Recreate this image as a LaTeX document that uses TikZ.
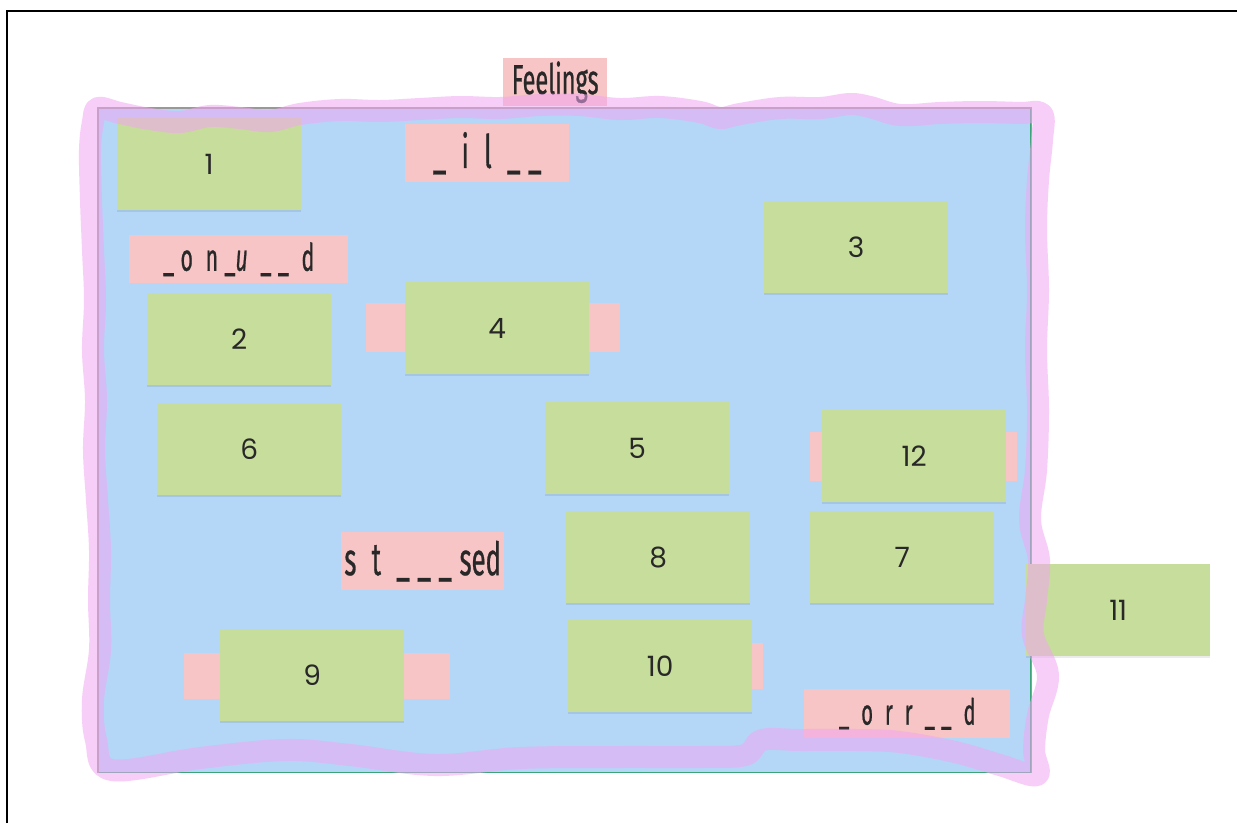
\documentclass[tikz,border=0pt]{standalone}
\usepackage{fontspec}
\usetikzlibrary{shadows}
\newfontfamily\numfont{Poppins}
\newfontfamily\condfont[FakeStretch=0.56, FakeBold=0.6]{Fira Sans}
\definecolor{notegreen}{RGB}{199,221,155}
\definecolor{labelpink}{RGB}{247,197,197}
\definecolor{boardblue}{RGB}{180,215,247}
\definecolor{bandpink}{RGB}{242,166,242}
\definecolor{boardgreen}{RGB}{60,165,120}
\definecolor{txt}{RGB}{40,40,40}
\tikzset{
  note/.style={fill=notegreen, minimum width=184pt, minimum height=92pt, inner sep=0pt,
    anchor=north west, text=txt, font=\numfont\fontsize{28}{32}\selectfont,
    drop shadow={shadow xshift=0pt, shadow yshift=-2pt, opacity=0.08, fill=black}},
  tab/.style={fill=labelpink, inner sep=0pt, anchor=north west},
  lbl/.style={fill=labelpink, inner sep=0pt, anchor=north west, text=txt},
  band/.style={draw=bandpink, opacity=0.55, line width=22pt, line cap=round, line join=round}
}
\begin{document}
\begin{tikzpicture}[x=1pt,y=-1pt]
\useasboundingbox (0,0) rectangle (1237,823);
\fill[white] (0,0) rectangle (1237,823);
% outer frame
\draw[black, line width=2pt] (7,823) -- (7,11) -- (1237,11);
% board
\node[fill=boardblue, draw=boardgreen, line width=1.2pt, inner sep=0pt, minimum width=932pt, minimum height=664pt, anchor=north west] (board) at (98,108) {};
\draw[gray!80, line width=1.2pt] (board.south west) -- (board.north west) -- (board.north east) -- (board.south east);
% tabs
\node[tab, minimum width=254pt, minimum height=49pt] (tab4) at (366,303) {};
\node[tab, minimum width=266pt, minimum height=46pt] (tab9) at (184,653) {};
\node[tab, minimum width=195pt, minimum height=46pt] (tab10) at (568,643) {};
\node[tab, minimum width=207pt, minimum height=49pt] (tab12) at (810,432) {};
% notes
\node[note] (n1) at (117,118) {1};
\node[note] (n2) at (147,293) {2};
\node[note] (n3) at (764,201) {3};
\node[note] (n4) at (405,282) {4};
\node[note] (n5) at (545,402) {5};
\node[note] (n6) at (157,403) {6};
\node[note] (n7) at (810,511) {7};
\node[note] (n8) at (566,511) {8};
\node[note] (n9) at (220,629) {9};
\node[note] (n10) at (568,620) {10};
\node[note] (n11) at (1026,564) {11};
\node[note] (n12) at (822,410) {12};
% labels
\node[lbl, minimum width=104pt, minimum height=48pt, font=\condfont\fontsize{42}{46}\selectfont] (feel) at (503,58) {Feelings\hspace{8pt}};
\node[lbl, minimum width=164pt, minimum height=58pt, font=\condfont\fontsize{46}{50}\selectfont] (l1) at (405,124) {\_\,\,i\,\,l\,\,\_\,\_};
\node[lbl, minimum width=219pt, minimum height=48pt, font=\condfont\fontsize{38}{42}\selectfont] (l2) at (129,235) {\_\,o\,\,n\,\_\textit{u}\,\,\_\,\_\,\,d};
\node[lbl, minimum width=163pt, minimum height=58pt, font=\condfont\fontsize{46}{50}\selectfont] (l3) at (341,532) {s\,\,t\,\,\_\,\_\,\_\,sed};
\node[lbl, minimum width=206pt, minimum height=49pt, font=\condfont\fontsize{36}{40}\selectfont] (l4) at (804,689) {\_\,\,o\,\,r\,\,r\,\,\_\,\_\,\,d};
% translucent wavy band
\draw[band] plot[smooth cycle, tension=0.6] coordinates {
 (98,108) (120,113) (150,119) (180,122) (210,116) (240,118) (270,121) (300,114) (340,110)
 (380,111) (420,109) (460,107) (500,108) (540,105) (580,105) (620,109) (660,107) (700,112)
 (720,118) (740,114) (780,108) (820,108) (850,104) (870,107) (900,115) (940,113) (980,112)
 (1020,113) (1042,114) (1042,140) (1038,180) (1036,230) (1038,290) (1036,350) (1038,410)
 (1036,470) (1030,520) (1039,560) (1036,600) (1033,635) (1048,675) (1038,715) (1034,750)
 (1037,775) (1000,765) (955,752) (900,742) (856,740) (800,740) (762,740) (745,755) (700,757)
 (620,757) (520,758) (435,765) (350,755) (285,750) (200,758) (112,770) (96,740) (93,700)
 (100,650) (99,600) (100,550) (97,500) (94,450) (96,400) (93,350) (95,300) (93,250)
 (91,200) (90,150) (93,122)
};
\end{tikzpicture}
\end{document}
